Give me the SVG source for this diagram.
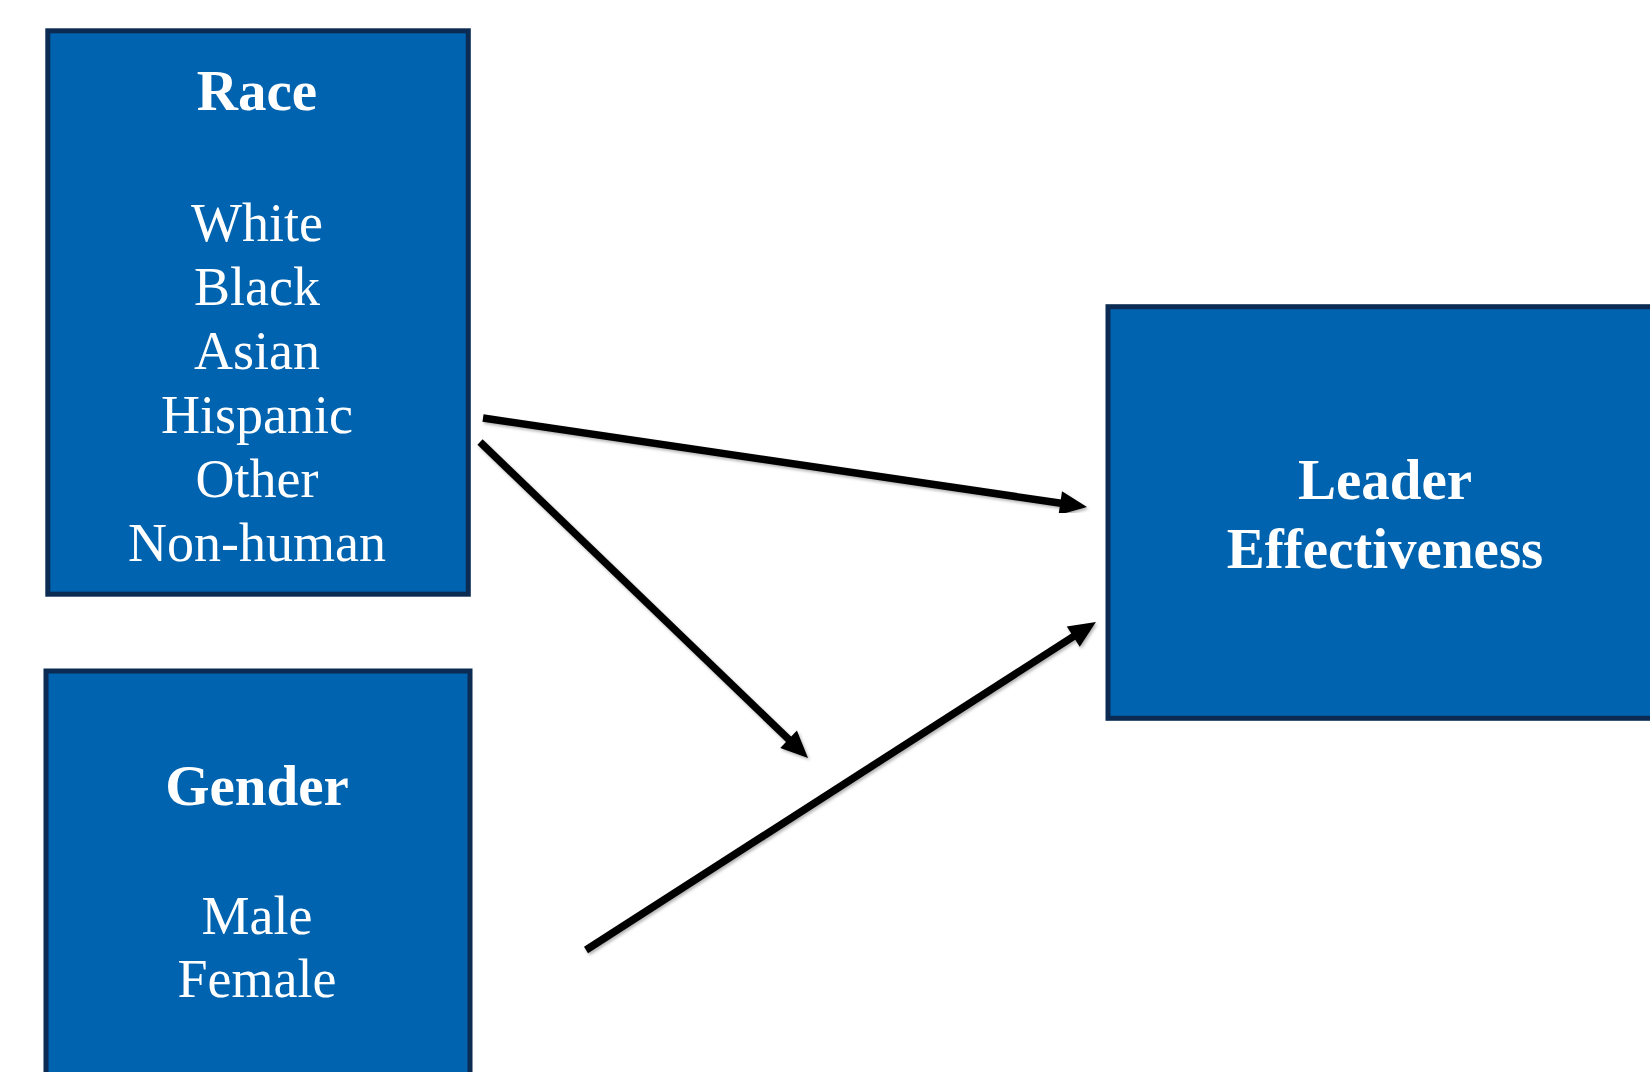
<svg xmlns="http://www.w3.org/2000/svg" width="1650" height="1072" viewBox="0 0 1650 1072">
<style>
.box{fill:#0063AF;stroke:#0B2B52;stroke-width:5}
.t{font-family:"Liberation Serif","Times New Roman",serif;fill:#ffffff;text-anchor:middle}
.h{font-weight:bold;font-size:57px}
.r{font-size:54px}
.arr{stroke:#000;stroke-width:7.5;fill:none;marker-end:url(#ah);filter:url(#sh)}
</style>
<defs>
<marker id="ah" markerUnits="userSpaceOnUse" markerWidth="28" markerHeight="26" refX="6" refY="12" orient="auto" overflow="visible">
<path d="M0,0 L27,12 L0,24 z" fill="#000"/>
</marker>
<filter id="sh" x="-10%" y="-10%" width="120%" height="120%">
<feDropShadow dx="1.5" dy="2" stdDeviation="1.5" flood-color="#000" flood-opacity="0.3"/>
</filter>
</defs>
<rect width="1650" height="1072" fill="#ffffff"/>
<g id="race">
<rect class="box" x="47.8" y="30.8" width="420.5" height="563.4"/>
<text class="t h" x="257" y="110">Race</text>
<text class="t r" x="257" y="241">White</text>
<text class="t r" x="257" y="305">Black</text>
<text class="t r" x="257" y="369">Asian</text>
<text class="t r" x="257" y="433">Hispanic</text>
<text class="t r" x="257" y="497">Other</text>
<text class="t r" x="257" y="561">Non-human</text>
</g>
<g id="gender">
<rect class="box" x="46" y="671" width="424" height="430"/>
<text class="t h" x="257" y="805">Gender</text>
<text class="t r" x="257" y="934">Male</text>
<text class="t r" x="257" y="997">Female</text>
</g>
<g id="leader">
<rect class="box" x="1108" y="306.7" width="560" height="411.6"/>
<text class="t h" x="1385" y="499">Leader</text>
<text class="t h" x="1385" y="568">Effectiveness</text>
</g>
<g id="connectors">
<line class="arr" x1="483" y1="418" x2="1066.2" y2="504"/>
<line class="arr" x1="480" y1="442" x2="792.9" y2="743.4"/>
<line class="arr" x1="586" y1="950" x2="1078.3" y2="633.4"/>
</g>
</svg>
